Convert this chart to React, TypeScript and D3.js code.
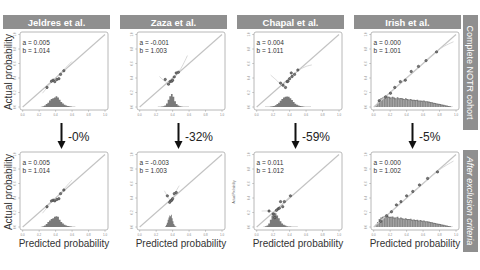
import React from "react";
import * as d3 from "d3";

const studies = ["Jeldres et al.", "Zaza et al.", "Chapal et al.", "Irish et al."];
const reductions = ["-0%", "-32%", "-59%", "-5%"];
const rowLabels = ["Complete NOTR cohort", "After exclusion criteria"];
const tickValues = [0, 0.2, 0.4, 0.6, 0.8, 1.0];
const interceptTop = [0.005, -0.001, 0.004, 0.0];
const slopeTop = [1.014, 1.003, 1.011, 1.001];
const interceptBottom = [0.005, -0.003, 0.011, 0.0];
const slopeBottom = [1.014, 1.003, 1.012, 1.002];

// calibration points [predicted, actual]
const jeldresTopPts = [[0.295, 0.27], [0.35, 0.356], [0.37, 0.37], [0.39, 0.35], [0.415, 0.38], [0.44, 0.39], [0.46, 0.45], [0.5, 0.5]];
const zazaTopPts = [[0.31, 0.38], [0.35, 0.315], [0.37, 0.35], [0.39, 0.356], [0.4, 0.37], [0.42, 0.415], [0.444, 0.47], [0.47, 0.48]];
const chapalTopPts = [[0.29, 0.33], [0.32, 0.3], [0.35, 0.27], [0.37, 0.35], [0.38, 0.356], [0.4, 0.39], [0.42, 0.47], [0.43, 0.42], [0.46, 0.45], [0.5, 0.51]];
const irishTopPts = [[0.067, 0.086], [0.144, 0.14], [0.204, 0.19], [0.256, 0.27], [0.324, 0.35], [0.384, 0.37], [0.456, 0.49], [0.544, 0.56], [0.636, 0.64], [0.764, 0.76]];
const jeldresBotPts = [[0.295, 0.28], [0.35, 0.36], [0.37, 0.37], [0.39, 0.36], [0.415, 0.38], [0.44, 0.39], [0.46, 0.46], [0.5, 0.51]];
const zazaBotPts = [[0.336, 0.43], [0.364, 0.34], [0.376, 0.36], [0.39, 0.37], [0.4, 0.39], [0.42, 0.46], [0.444, 0.475]];
const chapalBotPts = [[0.15, 0.22], [0.2, 0.18], [0.22, 0.13], [0.24, 0.23], [0.26, 0.25], [0.275, 0.26], [0.29, 0.35], [0.316, 0.28], [0.336, 0.35], [0.41, 0.43]];
const irishBotPts = [[0.084, 0.078], [0.156, 0.155], [0.216, 0.21], [0.276, 0.305], [0.331, 0.35], [0.4, 0.43], [0.475, 0.49], [0.556, 0.58], [0.655, 0.67], [0.775, 0.76]];

// smoothed calibration curves
const jeldresTopCurve = [[0.24, 0.19], [0.35, 0.34], [0.45, 0.46], [0.6, 0.63]];
const zazaTopCurve = [[0.24, 0.42], [0.3, 0.36], [0.35, 0.33], [0.4, 0.38], [0.5, 0.53], [0.58, 0.71]];
const chapalTopCurve = [[0.17, 0.44], [0.25, 0.36], [0.31, 0.3], [0.4, 0.4], [0.5, 0.5], [0.6, 0.56], [0.67, 0.58]];
const irishTopCurve = [[0.05, 0.05], [0.5, 0.5], [0.8, 0.8], [0.97, 0.9]];
const jeldresBotCurve = [[0.24, 0.19], [0.35, 0.34], [0.45, 0.46], [0.6, 0.65]];
const zazaBotCurve = [[0.3, 0.5], [0.35, 0.4], [0.38, 0.36], [0.42, 0.45], [0.48, 0.57]];
const chapalBotCurve = [[0.06, 0.22], [0.15, 0.22], [0.22, 0.2], [0.3, 0.3], [0.4, 0.42]];
const irishBotCurve = [[0.05, 0.05], [0.5, 0.5], [0.8, 0.79], [0.97, 0.91]];

// histograms of predicted probability (bin start, bin width, heights)
const histStart = [0.22, 0.22, 0.1, 0.02, 0.22, 0.31, 0.08, 0.02];
const histWidth = [0.02, 0.02, 0.02, 0.02, 0.02, 0.01, 0.02, 0.02];
const jeldresTopHist = [0.005, 0.01, 0.02, 0.04, 0.06, 0.09, 0.11, 0.12, 0.13, 0.15, 0.13, 0.1, 0.07, 0.05, 0.03, 0.02, 0.015, 0.01, 0.008, 0.005, 0.003];
const zazaTopHist = [0.003, 0.005, 0.008, 0.01, 0.02, 0.05, 0.1, 0.15, 0.18, 0.14, 0.08, 0.04, 0.02, 0.012, 0.008, 0.005, 0.004, 0.003, 0.002];
const chapalTopHist = [0.002, 0.003, 0.004, 0.006, 0.01, 0.015, 0.025, 0.04, 0.06, 0.085, 0.11, 0.13, 0.14, 0.145, 0.14, 0.12, 0.095, 0.07, 0.045, 0.03, 0.02, 0.013, 0.009, 0.006, 0.004, 0.003, 0.002, 0.002, 0.001, 0.001];
const irishTopHist = [0.02, 0.06, 0.1, 0.12, 0.13, 0.14, 0.13, 0.145, 0.14, 0.13, 0.14, 0.13, 0.12, 0.135, 0.12, 0.125, 0.12, 0.11, 0.12, 0.11, 0.105, 0.11, 0.1, 0.1, 0.095, 0.1, 0.09, 0.09, 0.085, 0.09, 0.08, 0.08, 0.075, 0.07, 0.065, 0.06, 0.055, 0.05, 0.045, 0.04, 0.035, 0.03, 0.025, 0.02, 0.015, 0.01, 0.005];
const jeldresBotHist = [0.005, 0.01, 0.02, 0.04, 0.07, 0.09, 0.11, 0.12, 0.14, 0.15, 0.14, 0.1, 0.07, 0.05, 0.03, 0.02, 0.015, 0.01, 0.008, 0.005, 0.003];
const zazaBotHist = [0.01, 0.03, 0.06, 0.1, 0.13, 0.16, 0.15, 0.17, 0.12, 0.08, 0.04, 0.02, 0.01, 0.005];
const chapalBotHist = [0.005, 0.01, 0.02, 0.05, 0.1, 0.16, 0.2, 0.19, 0.16, 0.12, 0.08, 0.05, 0.03, 0.02, 0.012, 0.008, 0.006, 0.004, 0.003, 0.002, 0.002, 0.001, 0.001, 0.001, 0.001];
const irishBotHist = [0.03, 0.07, 0.11, 0.13, 0.14, 0.15, 0.14, 0.155, 0.14, 0.14, 0.145, 0.13, 0.13, 0.14, 0.12, 0.13, 0.12, 0.115, 0.12, 0.11, 0.11, 0.115, 0.1, 0.105, 0.095, 0.1, 0.09, 0.095, 0.085, 0.09, 0.08, 0.08, 0.075, 0.07, 0.065, 0.06, 0.055, 0.05, 0.045, 0.04, 0.035, 0.03, 0.025, 0.02, 0.015, 0.01, 0.005];

const topPts = [jeldresTopPts, zazaTopPts, chapalTopPts, irishTopPts];
const botPts = [jeldresBotPts, zazaBotPts, chapalBotPts, irishBotPts];
const topCurves = [jeldresTopCurve, zazaTopCurve, chapalTopCurve, irishTopCurve];
const botCurves = [jeldresBotCurve, zazaBotCurve, chapalBotCurve, irishBotCurve];
const topHists = [jeldresTopHist, zazaTopHist, chapalTopHist, irishTopHist];
const botHists = [jeldresBotHist, zazaBotHist, chapalBotHist, irishBotHist];

const boxLeft = [20, 137, 254, 371];
const boxW = 88;
const boxH = 78;
const rowTop = [32, 152];
const FONT = "'Liberation Sans', Arial, sans-serif";

function Panel({ left, top, pts, curve, hist, hStart, hWidth, striped, a, b }: any) {
  const x = d3.scaleLinear().domain([0, 1]).range([left + 2.7, left + boxW - 3]);
  const y = d3.scaleLinear().domain([0, 1]).range([top + 75, top + 2.5]);
  const line = d3.line().x((d: any) => x(d[0])).y((d: any) => y(d[1])).curve(d3.curveCatmullRom);
  const bottom = top + boxH;
  let d = `M${x(hStart)},${y(0)}`;
  hist.forEach((h: number, i: number) => {
    d += `L${x(hStart + i * hWidth)},${y(h)}L${x(hStart + (i + 1) * hWidth)},${y(h)}`;
  });
  d += `L${x(hStart + hist.length * hWidth)},${y(0)}Z`;
  return (
    <g>
      <rect x={left} y={top} width={boxW} height={boxH} rx={2} fill="#fff" stroke="#b0b0b0" strokeWidth={0.9} />
      <path d={d} fill="#7a7a7a" />
      {striped && hist.map((h: number, i: number) => (
        <line key={i} x1={x(hStart + i * hWidth)} x2={x(hStart + i * hWidth)} y1={y(0)} y2={y(h) + 1} stroke="#d8d8d8" strokeWidth={0.5} />
      ))}
      <line x1={x(0)} y1={y(0)} x2={x(1)} y2={y(1)} stroke="#c2c2c2" strokeWidth={1.1} />
      <path d={line(curve as any) || ""} fill="none" stroke="#cfcfcf" strokeWidth={0.8} />
      {pts.map((p: number[], i: number) => (
        <circle key={i} cx={x(p[0])} cy={y(p[1])} r={1.2} fill="#777" stroke="#333" strokeWidth={0.5} />
      ))}
      <text x={left + 2.5} y={top + 12.5} fontSize={6.5} fill="#333" fontFamily={FONT}>{`a = ${a.toFixed(3)}`}</text>
      <text x={left + 2.5} y={top + 20.5} fontSize={6.5} fill="#333" fontFamily={FONT}>{`b = ${b.toFixed(3)}`}</text>
      {tickValues.map((t, i) => (
        <g key={i}>
          <line x1={x(t)} x2={x(t)} y1={bottom} y2={bottom + 1.8} stroke="#999" strokeWidth={0.5} />
          <text x={x(t)} y={bottom + 6} fontSize={3} fill="#888" textAnchor="middle" fontFamily={FONT}>{t.toFixed(1)}</text>
          <line x1={left} x2={left - 1.8} y1={y(t)} y2={y(t)} stroke="#999" strokeWidth={0.5} />
          <text transform={`translate(${left - 4},${y(t)}) rotate(-90)`} fontSize={3} fill="#888" textAnchor="middle" fontFamily={FONT}>{t.toFixed(1)}</text>
        </g>
      ))}
    </g>
  );
}

export default function App() {
  return (
    <svg width={480} height={270} style={{ position: "absolute", left: 0, top: 0, background: "#fff" }}>
      {studies.map((s, i) => (
        <g key={s}>
          <rect x={boxLeft[i] - 17} y={15} width={boxW + 19} height={14} fill="#8f8f8f" />
          <text x={boxLeft[i] - 17 + (boxW + 19) / 2} y={25.5} fontSize={9.5} fontWeight="bold" fill="#fff" textAnchor="middle" fontFamily={FONT}>{s}</text>
          <Panel left={boxLeft[i]} top={rowTop[0]} pts={topPts[i]} curve={topCurves[i]} hist={topHists[i]} hStart={histStart[i]} hWidth={histWidth[i]} striped={i === 3} a={interceptTop[i]} b={slopeTop[i]} />
          <Panel left={boxLeft[i]} top={rowTop[1]} pts={botPts[i]} curve={botCurves[i]} hist={botHists[i]} hStart={histStart[i + 4]} hWidth={histWidth[i + 4]} striped={i === 3} a={interceptBottom[i]} b={slopeBottom[i]} />
          <line x1={boxLeft[i] + 41.5} x2={boxLeft[i] + 41.5} y1={123} y2={142} stroke="#111" strokeWidth={2} />
          <path d={`M${boxLeft[i] + 37.5},${141} L${boxLeft[i] + 45.5},${141} L${boxLeft[i] + 41.5},${149} Z`} fill="#111" />
          <text x={boxLeft[i] + 48} y={141} fontSize={12} fill="#222" fontFamily={FONT}>{reductions[i]}</text>
          <text x={boxLeft[i] + 44} y={247} fontSize={10} fill="#333" textAnchor="middle" fontFamily={FONT}>Predicted probability</text>
        </g>
      ))}
      <text transform="translate(12,72) rotate(-90)" fontSize={10} fill="#333" textAnchor="middle" fontFamily={FONT}>Actual probability</text>
      <text transform="translate(12,192) rotate(-90)" fontSize={10} fill="#333" textAnchor="middle" fontFamily={FONT}>Actual probability</text>
      <text transform="translate(235,192) rotate(-90)" fontSize={3} fill="#666" textAnchor="middle" fontFamily={FONT}>Actual Probability</text>
      <rect x={463} y={15} width={15} height={115} fill="#8f8f8f" />
      <text transform="translate(467,72.5) rotate(90)" fontSize={9} fill="#fff" textAnchor="middle" fontFamily={FONT}>{rowLabels[0]}</text>
      <rect x={463} y={150} width={15} height={102} fill="#8f8f8f" />
      <text transform="translate(467,201) rotate(90)" fontSize={9} fill="#fff" fontStyle="italic" textAnchor="middle" fontFamily={FONT}>{rowLabels[1]}</text>
    </svg>
  );
}
